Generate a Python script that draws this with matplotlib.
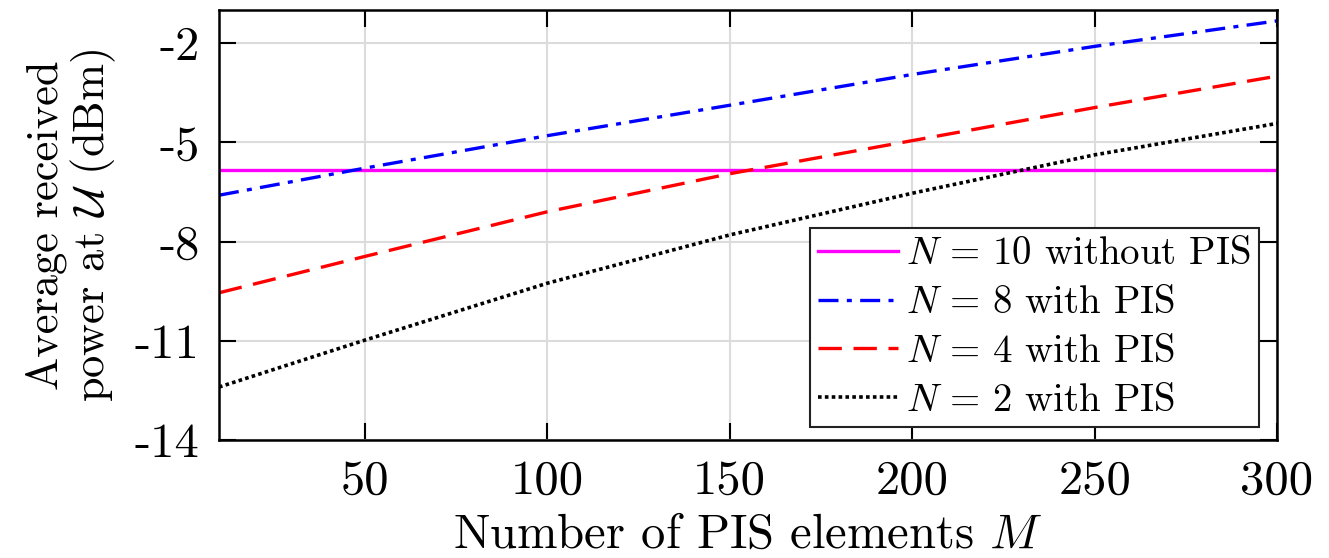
import numpy as np
import matplotlib
matplotlib.use("Agg")
import matplotlib.pyplot as plt

plt.rcParams['font.family'] = 'serif'
plt.rcParams['font.serif'] = ['cmr10', 'DejaVu Serif']
plt.rcParams['mathtext.fontset'] = 'cm'
plt.rcParams['axes.formatter.use_mathtext'] = True

# Data
M = [10, 50, 100, 150, 200, 250, 300]
p_n10_without = [-5.84, -5.84, -5.84, -5.84, -5.84, -5.84, -5.84]
p_n8 = [-6.6, -5.78, -4.8, -3.88, -2.95, -2.1, -1.33]
p_n4 = [-9.55, -8.45, -7.1, -5.95, -4.95, -3.95, -3.0]
p_n2 = [-12.4, -10.98, -9.26, -7.8, -6.54, -5.38, -4.43]

labels = [r'$N\,=\,10$ without PIS', r'$N\,=\,8$ with PIS',
          r'$N\,=\,4$ with PIS', r'$N\,=\,2$ with PIS']
xticks = [50, 100, 150, 200, 250, 300]
yticks = [-14, -11, -8, -5, -2]
ytick_labels = ['-14', '-11', '-8', '-5', '-2']

fig = plt.figure(figsize=(13.29, 5.58), dpi=100)
ax = fig.add_axes([0.1648, 0.2115, 0.7961, 0.7706])

ax.plot(M, p_n10_without, color='#ff00ff', lw=2.4, ls='-', label=labels[0])
ax.plot(M, p_n8, color='#0000ff', lw=2.4, ls=(0, (6, 2.5, 1.5, 2.5)), label=labels[1])
ax.plot(M, p_n4, color='#ff0000', lw=2.4, ls=(0, (7, 3.5)), label=labels[2])
ax.plot(M, p_n2, color='black', lw=2.6, ls=(0, (1, 0.9)), label=labels[3])

ax.set_xlim(10, 300)
ax.set_ylim(-14, -1)
ax.set_xticks(xticks)
ax.set_xticklabels([str(v) for v in xticks])
ax.set_yticks(yticks)
ax.set_yticklabels(ytick_labels)

ax.grid(True, color='#dcdcdc', lw=1.5)
ax.set_axisbelow(True)
ax.tick_params(direction='in', length=12, width=1.5, top=True, right=True,
               labelsize=35, pad=14)
for s in ax.spines.values():
    s.set_linewidth(1.8)

ax.set_xlabel(r'Number of PIS elements $M$', fontsize=35, labelpad=7)
ax.set_ylabel('Average received\npower at $\\mathcal{U}$ (dBm)', fontsize=32,
              labelpad=12, multialignment='center', linespacing=1.05)

leg = ax.legend(loc='lower right', bbox_to_anchor=(0.983, 0.03), borderaxespad=0,
                fontsize=28, fancybox=False, framealpha=1, edgecolor='#222222',
                handlelength=2.05, handletextpad=0.2, labelspacing=0.33,
                borderpad=0.22)
leg.get_frame().set_linewidth(1.5)

fig.savefig('out.png', dpi=100)
